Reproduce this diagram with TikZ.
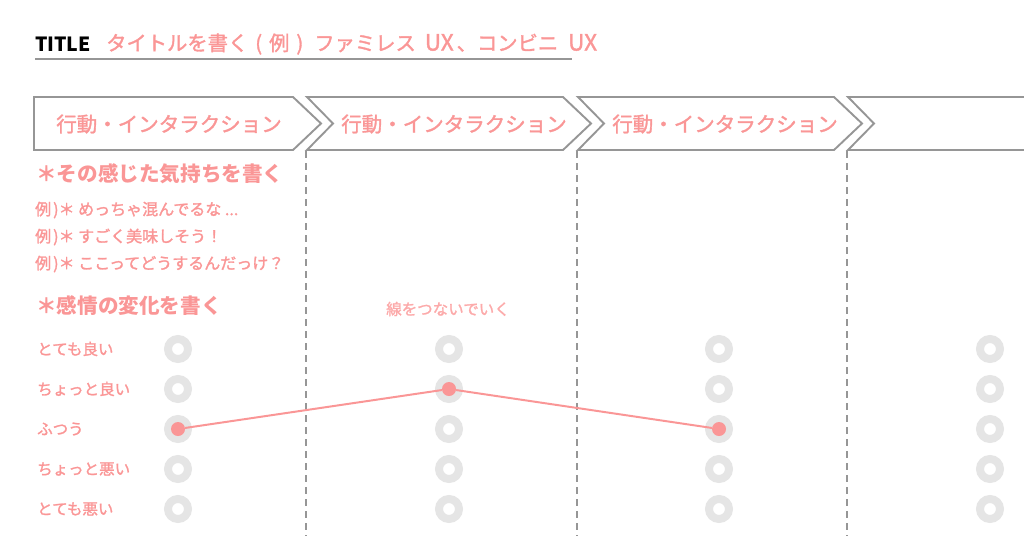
\documentclass[tikz,border=0pt]{standalone}
\usepackage{fontspec}
\setmainfont{Noto Sans CJK JP}
\newfontfamily\medfont[FakeBold=1.6]{Noto Sans CJK JP}
\definecolor{pk}{RGB}{250,150,150}
\definecolor{pklight}{RGB}{252,170,170}
\definecolor{ringgray}{RGB}{229,229,229}
\definecolor{linegray}{RGB}{150,150,150}
\tikzset{
  chev/.style={draw=linegray, line width=1.9pt, fill=white, line join=miter},
  chevtext/.style={text=pk, font=\medfont\fontsize{20.5}{22}\selectfont, inner sep=0pt},
  heading/.style={text=pk, font=\fontsize{20.6}{22}\selectfont\bfseries, anchor=west, inner sep=0pt},
  example/.style={text=pk, font=\medfont\fontsize{16}{18}\selectfont, anchor=west, inner sep=0pt},
  rowlabel/.style={text=pk, font=\medfont\fontsize{15.5}{17}\selectfont, anchor=west, inner sep=0pt},
  divider/.style={draw=linegray, line width=1.5pt, dash pattern=on 7pt off 5pt},
  ring/.style={circle, draw=ringgray, line width=8pt, minimum size=20pt, inner sep=0pt},
  dot/.style={circle, fill=pk, minimum size=14pt, inner sep=0pt},
  pkline/.style={draw=pk, line width=2pt}
}
\newcommand{\bigux}{{\fontsize{22.5}{22}\selectfont UX}}
\begin{document}
\begin{tikzpicture}[x=1pt,y=-1pt]
\useasboundingbox (0,0) rectangle (1024,549);
% title
\node[anchor=west, inner sep=0pt, font=\fontsize{19.5}{21}\selectfont\bfseries] (ttl) at (35,44) {TITLE};
\node[anchor=west, inner sep=0pt, text=pk, font=\medfont\fontsize{20.3}{22}\selectfont] (ttltext) at (106,44) {タイトルを書く\hspace{7pt}(\hspace{7pt}例\hspace{7pt})\hspace{11pt}ファミレス\hspace{9pt}\bigux\hspace{3pt}、コンビニ\hspace{10pt}\bigux};
\coordinate (ul1) at (35,59);
\coordinate (ul2) at (572,59);
\draw[draw=linegray, line width=2pt] (ul1) -- (ul2);
% chevrons
\draw[chev] (34,97) -- (293,97) -- (321,123.5) -- (293,150) -- (34,150) -- cycle;
\foreach \i in {0,1,2} {
  \pgfmathsetmacro{\s}{307+271*\i}
  \draw[chev] (\s,97) -- (\s+256,97) -- (\s+284,123.5) -- (\s+256,150) -- (\s,150) -- (\s+26,123.5) -- cycle;
}
\draw[chev] (1030,97) -- (848,97) -- (874,123.5) -- (848,150) -- (1030,150);
\node[chevtext] (act1) at (169,124) {行動・インタラクション};
\node[chevtext] (act2) at (454,124) {行動・インタラクション};
\node[chevtext] (act3) at (725,124) {行動・インタラクション};
% dividers
\foreach \x in {306,577,847} { \draw[divider] (\x,151) -- (\x,536); }
% left text
\node[heading] (h1) at (36,174) {＊その感じた気持ちを書く};
\node[example] (e1) at (35,210) {例\hspace{2pt})＊ めっちゃ混んでるな ...};
\node[example] (e2) at (35,237) {例\hspace{2pt})＊ すごく美味しそう！};
\node[example] (e3) at (35,264) {例\hspace{2pt})＊ ここってどうするんだっけ？};
\node[heading] (h2) at (36,306) {＊感情の変化を書く};
\node[text=pklight, font=\medfont\fontsize{15.5}{17}\selectfont, inner sep=0pt] (hint) at (448,309) {線をつないでいく};
% row labels
\node[rowlabel] (r1) at (37,349) {とても良い};
\node[rowlabel] (r2) at (37,389) {ちょっと良い};
\node[rowlabel] (r3) at (37,429) {ふつう};
\node[rowlabel] (r4) at (37,469) {ちょっと悪い};
\node[rowlabel] (r5) at (37,509) {とても悪い};
% rings
\foreach \x [count=\c] in {178,449,719,990} {
  \foreach \y [count=\r] in {349,389,429,469,509} {
    \node[ring] (ring-\c-\r) at (\x,\y) {};
  }
}
% emotion line
\node[dot] (p1) at (ring-1-3) {};
\node[dot] (p2) at (ring-2-2) {};
\node[dot] (p3) at (ring-3-3) {};
\draw[pkline] (p1) -- (p2) -- (p3);
\end{tikzpicture}
\end{document}
